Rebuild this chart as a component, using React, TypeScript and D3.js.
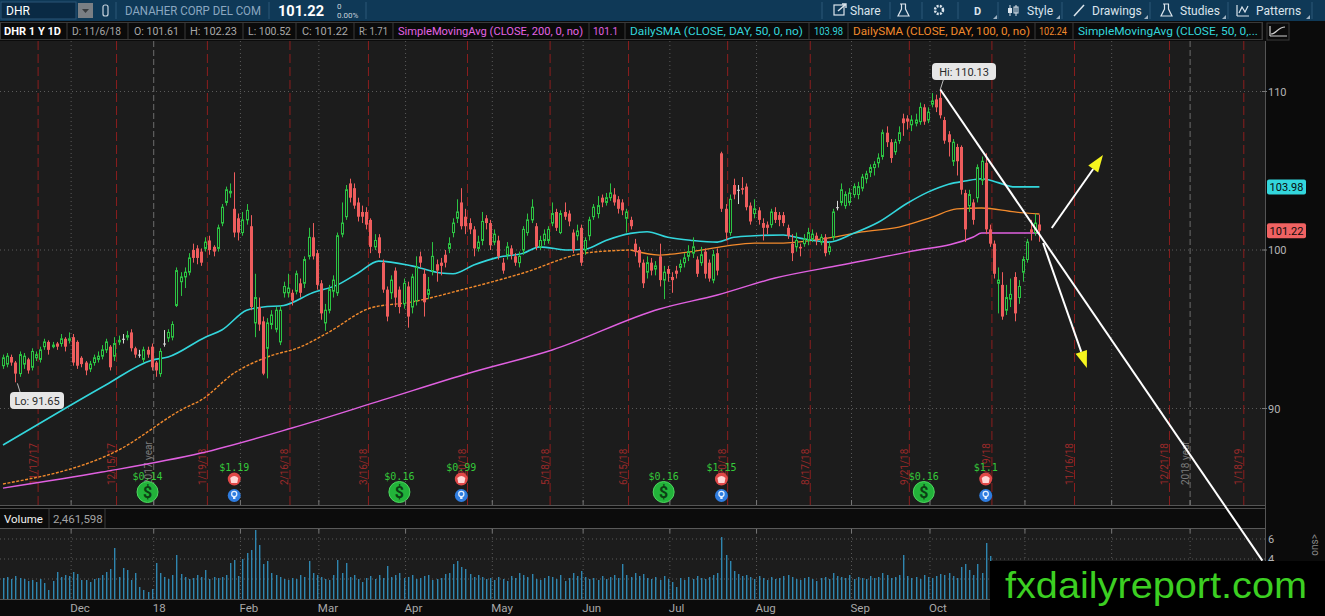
import React from "react";
import * as d3 from "d3";

// daily bars, [open, high, low, close]
const ohlc: [number, number, number, number][] = [
  [92.7, 93.4, 92.5, 93.2], [92.8, 93.5, 92.6, 93.3], [93.25, 93.4, 92.7, 92.9], [92.9, 93.0, 91.65, 92.2],
  [92.2, 93.6, 92.0, 93.4], [92.8, 93.5, 92.5, 93.3], [93.1, 93.2, 92.2, 92.4], [92.6, 93.8, 92.4, 93.6],
  [93.2, 93.6, 93.0, 93.4], [93.1, 93.9, 92.9, 93.7], [93.9, 94.4, 93.7, 94.2], [94.2, 94.3, 93.4, 93.7],
  [93.9, 94.2, 93.8, 94.0], [94.1, 94.2, 93.7, 93.9], [94.1, 94.7, 93.9, 94.4], [94.4, 94.5, 93.6, 93.9],
  [94.3, 94.8, 94.1, 94.4], [94.5, 94.7, 92.7, 92.9], [94.2, 94.3, 92.5, 92.7], [93.2, 93.3, 92.6, 92.8],
  [92.9, 93.0, 92.1, 92.4], [92.5, 93.0, 92.3, 92.8], [92.9, 93.4, 92.7, 93.2], [93.1, 93.6, 92.9, 93.3],
  [93.3, 94.0, 93.1, 93.7], [93.7, 94.4, 93.5, 94.2], [93.9, 94.0, 92.4, 92.6], [93.3, 94.5, 93.0, 94.1],
  [94.2, 94.6, 94.0, 94.3], [94.4, 94.7, 94.1, 94.4], [94.5, 94.9, 94.3, 94.6], [94.8, 95.0, 93.6, 93.8],
  [93.8, 93.9, 93.2, 93.4], [93.4, 93.7, 93.2, 93.4], [93.1, 93.9, 92.9, 93.7], [93.7, 93.9, 93.2, 93.4],
  [93.9, 94.1, 92.4, 92.6], [92.9, 93.0, 92.0, 92.4], [92.2, 93.8, 92.0, 93.6], [94.1, 94.95, 93.9, 94.1],
  [94.45, 95.0, 94.2, 94.8], [94.5, 95.5, 94.3, 95.3], [96.5, 98.9, 96.4, 98.7], [98.0, 98.6, 97.1, 98.3],
  [98.3, 98.9, 97.6, 98.6], [98.6, 99.8, 98.4, 99.5], [100.0, 100.4, 99.2, 99.5], [100.1, 100.3, 99.1, 99.5],
  [99.9, 100.1, 99.0, 99.2], [100.1, 100.8, 99.9, 100.5], [100.6, 100.9, 99.7, 100.0], [100.2, 100.3, 99.6, 99.9],
  [100.1, 101.6, 99.9, 101.4], [101.7, 102.9, 101.5, 102.7], [103.0, 104.0, 102.8, 103.8], [103.6, 104.2, 103.3, 103.7],
  [102.6, 104.9, 100.8, 101.1], [102.0, 102.3, 100.6, 101.1], [101.1, 102.4, 100.9, 101.9], [101.9, 102.9, 101.6, 102.5],
  [101.5, 102.2, 96.2, 96.4], [95.4, 98.5, 94.5, 97.0], [96.4, 97.0, 94.9, 95.3], [95.5, 95.8, 92.1, 92.2],
  [93.8, 95.7, 91.9, 95.4], [95.3, 96.2, 95.0, 95.9], [95.0, 96.4, 94.8, 96.2], [94.2, 96.5, 94.0, 96.2],
  [97.3, 98.0, 97.0, 97.7], [97.3, 98.5, 97.0, 97.6], [97.3, 97.5, 96.5, 96.8], [97.4, 98.7, 97.2, 98.5],
  [97.9, 98.2, 97.0, 97.3], [97.9, 99.6, 97.6, 99.4], [99.6, 101.4, 99.4, 100.8], [100.8, 101.7, 99.4, 99.6],
  [99.8, 100.0, 97.5, 97.8], [97.9, 98.1, 95.6, 96.0], [95.4, 96.6, 94.9, 96.2], [96.2, 97.8, 96.0, 97.5],
  [97.4, 98.4, 97.0, 98.1], [97.3, 101.1, 97.1, 100.9], [101.0, 103.0, 100.8, 101.7], [102.1, 104.1, 101.9, 103.8],
  [104.2, 104.5, 103.0, 103.3], [103.9, 104.2, 102.6, 102.8], [103.0, 103.3, 101.8, 102.1], [102.4, 102.8, 101.7, 102.1],
  [102.4, 102.7, 101.3, 101.6], [101.9, 102.0, 99.8, 100.2], [100.2, 101.0, 100.0, 100.6], [100.8, 101.0, 99.5, 99.8],
  [99.2, 99.4, 97.3, 97.5], [97.5, 97.7, 95.5, 95.8], [97.3, 98.4, 96.9, 98.1], [98.7, 98.9, 96.4, 97.0],
  [97.5, 97.7, 96.0, 96.4], [96.6, 98.2, 96.3, 97.9], [97.7, 98.0, 95.1, 95.8], [96.4, 98.5, 96.0, 98.3],
  [96.8, 99.6, 96.5, 98.9], [99.6, 99.9, 98.9, 99.2], [98.5, 98.8, 95.8, 96.7], [97.2, 98.3, 96.9, 97.5],
  [98.7, 100.5, 98.4, 99.6], [99.1, 99.4, 98.0, 98.7], [99.2, 99.5, 98.4, 99.0], [99.7, 100.0, 98.9, 99.2],
  [100.1, 100.8, 99.8, 100.4], [101.1, 102.0, 100.8, 101.7], [102.0, 103.2, 101.7, 102.4], [103.0, 103.9, 101.3, 101.5],
  [102.1, 102.6, 101.0, 101.5], [101.7, 102.0, 101.0, 101.3], [101.3, 101.5, 99.6, 100.1], [100.1, 100.9, 99.9, 100.5],
  [100.6, 102.4, 100.3, 101.8], [102.0, 102.2, 101.3, 101.7], [101.7, 101.9, 100.0, 100.3], [100.5, 101.3, 100.3, 101.0],
  [100.6, 100.9, 99.4, 99.6], [99.2, 99.5, 98.5, 98.7], [99.7, 100.5, 99.4, 100.2], [100.1, 100.3, 99.4, 99.7],
  [99.6, 99.8, 99.0, 99.2], [99.2, 99.9, 98.9, 99.6], [100.0, 101.5, 99.7, 101.3], [101.1, 102.3, 100.9, 101.9],
  [101.9, 103.2, 101.7, 102.7], [101.5, 101.7, 100.0, 100.2], [100.2, 100.9, 100.0, 100.6], [100.6, 101.3, 100.3, 101.0],
  [100.6, 101.5, 100.4, 101.3], [101.7, 103.0, 101.5, 102.3], [102.4, 102.6, 101.2, 101.4], [101.1, 102.5, 101.0, 102.3],
  [102.4, 103.0, 101.9, 102.1], [102.3, 102.5, 101.5, 101.8], [101.1, 101.3, 99.8, 100.0], [100.9, 101.6, 100.6, 101.2],
  [101.4, 101.6, 99.0, 99.2], [100.0, 100.8, 99.7, 100.6], [100.9, 102.1, 100.6, 101.9], [102.1, 102.9, 101.9, 102.7],
  [102.3, 103.4, 102.0, 102.8], [103.3, 103.5, 102.7, 103.0], [103.0, 103.6, 102.8, 103.3], [103.3, 104.2, 103.1, 103.6],
  [103.5, 103.9, 102.8, 103.0], [103.2, 103.4, 102.3, 102.6], [103.0, 103.2, 102.2, 102.5], [102.0, 102.6, 101.1, 102.4],
  [101.9, 102.1, 101.3, 101.5], [100.4, 100.7, 99.6, 99.9], [100.0, 100.2, 98.9, 99.2], [99.2, 99.4, 97.6, 97.9],
  [98.6, 99.6, 98.2, 99.2], [99.2, 99.5, 98.4, 98.7], [98.8, 99.3, 98.4, 99.0], [99.6, 100.4, 97.7, 98.1],
  [98.1, 99.0, 96.9, 98.6], [98.8, 99.0, 98.0, 98.5], [98.3, 98.6, 97.3, 98.1], [98.7, 99.0, 98.2, 98.5],
  [98.9, 99.4, 98.6, 99.1], [99.2, 99.8, 98.9, 99.5], [99.6, 100.3, 99.3, 99.9], [99.8, 100.8, 99.5, 100.2],
  [99.4, 99.6, 98.3, 98.5], [99.2, 100.2, 99.0, 99.7], [99.9, 100.1, 98.2, 98.5], [99.2, 99.4, 98.0, 98.2],
  [98.1, 100.0, 97.9, 99.7], [99.8, 100.1, 98.4, 98.7], [106.1, 106.2, 102.4, 102.6], [102.6, 102.9, 100.6, 101.1],
  [101.1, 103.5, 100.9, 103.2], [104.1, 104.5, 103.2, 103.5], [103.8, 104.1, 102.9, 103.8], [103.9, 104.6, 103.5, 103.8],
  [104.0, 104.2, 102.5, 102.7], [102.8, 103.0, 101.6, 101.8], [102.3, 103.2, 102.0, 102.6], [102.5, 102.7, 101.6, 101.9],
  [101.7, 102.0, 100.6, 101.4], [101.6, 101.8, 101.0, 101.4], [101.6, 102.6, 101.4, 102.4], [102.4, 102.7, 101.7, 101.9],
  [102.2, 102.4, 101.5, 101.9], [102.2, 102.4, 101.5, 101.7], [101.4, 101.6, 100.7, 100.9], [100.4, 101.0, 99.3, 99.8],
  [100.2, 101.1, 99.9, 100.6], [100.2, 100.4, 99.6, 100.1], [100.4, 101.0, 100.2, 100.7], [100.6, 101.4, 100.3, 101.1],
  [100.7, 101.3, 100.5, 101.0], [100.9, 101.1, 100.3, 100.6], [100.5, 101.0, 100.3, 100.8], [100.8, 101.0, 99.6, 99.8],
  [99.9, 100.5, 99.7, 100.2], [100.8, 102.6, 100.6, 102.4], [102.7, 103.1, 102.5, 102.7], [103.0, 104.2, 102.8, 103.8],
  [102.8, 103.7, 102.6, 103.5], [103.0, 103.9, 102.8, 103.6], [103.5, 104.2, 103.3, 104.0], [103.5, 104.3, 103.2, 104.0],
  [103.9, 104.8, 103.7, 104.6], [104.5, 105.0, 104.2, 104.8], [104.9, 105.4, 104.6, 105.2], [105.2, 105.6, 104.7, 105.4],
  [105.5, 106.1, 105.2, 105.8], [105.9, 107.6, 105.7, 107.4], [107.4, 107.8, 106.5, 106.8], [106.8, 107.0, 105.5, 105.8],
  [106.2, 107.0, 106.0, 106.8], [106.9, 107.8, 106.7, 107.4], [108.3, 108.6, 107.2, 108.0], [108.3, 108.5, 107.6, 108.1],
  [107.9, 108.5, 107.5, 108.2], [108.0, 108.6, 107.8, 108.2], [108.1, 109.3, 107.9, 109.0], [109.0, 109.2, 107.9, 108.1],
  [108.2, 109.0, 108.0, 108.7], [109.2, 109.9, 109.0, 109.4], [109.5, 109.8, 108.7, 109.0], [109.6, 110.13, 108.3, 108.5],
  [108.2, 108.4, 106.7, 106.9], [107.3, 107.5, 105.9, 106.8], [105.6, 107.0, 105.3, 106.8], [106.5, 106.7, 104.7, 105.6],
  [106.5, 106.6, 103.5, 103.8], [103.6, 103.8, 100.5, 101.3], [102.8, 103.8, 102.4, 103.5], [103.0, 103.2, 101.6, 101.9],
  [103.3, 105.4, 103.0, 105.2], [104.4, 105.9, 104.1, 105.6], [105.5, 106.1, 101.0, 101.3], [101.3, 101.6, 100.2, 100.4],
  [100.4, 100.6, 98.2, 98.5], [97.9, 98.9, 96.0, 98.1], [97.8, 98.6, 95.6, 95.8], [96.2, 97.8, 95.9, 97.0],
  [96.9, 98.2, 96.4, 97.2], [98.3, 98.6, 95.5, 96.0], [97.0, 98.1, 96.6, 97.7], [98.6, 99.6, 98.0, 99.4],
  [99.4, 100.7, 99.2, 100.5], [101.3, 101.9, 100.6, 101.1], [101.1, 102.3, 100.9, 101.7], [101.61, 102.23, 100.52, 101.22],
];

// daily volume, millions of shares
const volumes = [
  2.1, 2.2, 2.0, 2.3, 2.1, 2.0, 1.8, 1.9, 1.7, 2.0,
  1.6, 0.9, 1.8, 2.7, 2.2, 2.4, 2.3, 2.7, 2.5, 1.9,
  1.9, 1.7, 2.0, 2.1, 2.4, 2.7, 3.0, 5.1, 2.2, 3.1,
  2.9, 1.9, 2.6, 1.2, 0.9, 0.7, 1.0, 3.6, 2.6, 2.2,
  2.0, 2.4, 4.4, 2.5, 2.2, 2.0, 2.1, 2.4, 2.2, 2.9,
  2.0, 2.2, 2.1, 2.2, 2.4, 3.6, 3.9, 2.3, 4.0, 4.6,
  4.9, 6.9, 5.4, 3.5, 3.8, 2.6, 2.4, 2.2, 2.0, 1.9,
  2.1, 2.0, 2.4, 2.2, 3.8, 2.6, 2.4, 2.2, 2.0, 1.9,
  2.4, 3.9, 2.6, 3.6, 2.2, 2.4, 2.0, 1.7, 2.1, 2.3,
  2.0, 2.4, 2.1, 3.3, 2.2, 2.4, 2.6, 2.1, 2.2, 2.4,
  2.0, 2.1, 2.3, 2.4, 1.9, 2.0, 2.1, 2.5, 2.6, 3.5,
  3.8, 3.2, 3.0, 2.5, 2.2, 2.4, 2.2, 2.0, 2.1, 1.9,
  2.2, 2.0, 1.8, 2.3, 2.1, 2.6, 2.4, 2.2, 2.5, 2.0,
  1.9, 2.1, 2.3, 2.2, 2.0, 2.4, 1.8, 2.1, 2.6, 2.3,
  2.8, 2.2, 2.0, 2.1, 1.9, 2.3, 2.0, 2.2, 2.4, 2.1,
  3.5, 2.4, 2.2, 2.6, 2.3, 2.5, 2.1, 2.0, 2.2, 1.9,
  2.3, 2.0, 1.7, 1.2, 2.1, 1.9, 2.2, 2.0, 2.3, 2.1,
  2.0, 2.2, 2.4, 2.6, 6.2, 4.4, 3.8, 2.8, 2.5, 2.3,
  2.4, 2.2, 2.0, 2.3, 2.1, 1.9, 2.2, 2.0, 2.1, 2.3,
  2.4, 2.2, 2.0, 1.9, 2.1, 2.2, 2.0, 1.8, 2.1, 2.2,
  2.0, 2.6, 2.3, 2.2, 2.1, 2.4, 2.0, 2.2, 2.1, 2.0,
  2.3, 2.1, 2.2, 2.6, 2.4, 2.1, 2.2, 2.4, 4.4, 2.3,
  2.1, 2.2, 2.0, 2.4, 2.2, 2.1, 2.3, 2.5, 2.4, 2.6,
  2.3, 2.1, 3.2, 3.5, 2.9, 2.4, 3.5, 2.6, 5.6, 4.3,
  3.4, 3.0, 3.2, 2.8, 2.6, 2.9, 2.5, 2.4, 2.7, 2.3,
  2.2, 2.46,
];

// moving averages, [bar index, value]
const sma50Pts: [number, number][] = [
  [0, 87.7], [15, 90.0], [25, 91.5], [36, 93.05], [40, 93.25], [49, 94.5], [53, 94.95], [59, 96.2],
  [63, 96.4], [68, 96.5], [75, 97.3], [81, 97.8], [86, 98.55], [91, 99.3], [99, 99.0], [106, 98.55],
  [109, 98.5], [114, 99.05], [120, 99.55], [126, 99.8], [130, 100.2], [137, 100.0], [141, 100.05],
  [146, 100.6], [152, 101.05], [156, 101.15], [161, 100.8], [167, 100.6], [173, 100.5], [177, 100.8],
  [182, 100.9], [189, 100.95], [193, 100.75], [200, 100.5], [206, 101.05], [212, 101.75], [219, 102.95],
  [224, 103.65], [229, 104.15], [233, 104.35], [237, 104.5], [241, 104.25], [245, 103.98], [251, 103.98],
];
const sma100Pts: [number, number][] = [
  [0, 85.24], [28, 87.38], [44, 90.03], [48, 90.54], [56, 92.24], [64, 93.25], [72, 93.88], [79, 94.83],
  [89, 96.34], [99, 96.72], [111, 97.48], [126, 98.55], [141, 99.81], [152, 100.0], [159, 99.68],
  [166, 99.87], [175, 100.25], [182, 100.44], [189, 100.44], [200, 100.76], [208, 101.14], [217, 101.45],
  [225, 102.08], [231, 102.59], [237, 102.65], [245, 102.4], [251, 102.27],
];
const sma200Pts: [number, number][] = [
  [0, 84.98], [24, 85.99], [48, 87.19], [70, 88.77], [92, 90.54], [113, 92.24], [133, 93.69],
  [159, 96.28], [173, 97.16], [187, 98.23], [203, 99.05], [219, 99.87], [235, 100.82], [237, 101.07], [251, 101.07],
];

const holidays = [
  "2017-11-23", "2017-12-25", "2018-01-01", "2018-01-15", "2018-02-19", "2018-03-30", "2018-05-28",
  "2018-07-04", "2018-09-03", "2018-11-22", "2018-12-05", "2018-12-25", "2019-01-01", "2019-01-21",
];
const opexDates = [
  "2017-11-17", "2017-12-15", "2018-01-19", "2018-02-16", "2018-03-16", "2018-04-20", "2018-05-18",
  "2018-06-15", "2018-07-20", "2018-08-17", "2018-09-21", "2018-10-19", "2018-11-16", "2018-12-21", "2019-01-18",
];
const dividends = [
  { date: "2017-12-28", label: "$0.14" }, { date: "2018-03-28", label: "$0.16" },
  { date: "2018-06-28", label: "$0.16" }, { date: "2018-09-27", label: "$0.16" },
];
const earnings = [
  { date: "2018-01-30", label: "$1.19" }, { date: "2018-04-19", label: "$0.99" },
  { date: "2018-07-19", label: "$1.15" }, { date: "2018-10-18", label: "$1.1" },
];
const priceTicks = [90, 100, 110];
const volTicks = [2, 4, 6];
const sma50Last = 103.98;

const infoItems = [
  { t: "DHR 1 Y 1D", x: 4, w: 57, c: "#ffffff", b: true },
  { t: "D: 11/6/18", x: 72, w: 49, c: "#a9a9a9" },
  { t: "O: 101.61", x: 134, w: 45, c: "#a9a9a9" },
  { t: "H: 102.23", x: 190, w: 47, c: "#a9a9a9" },
  { t: "L: 100.52", x: 248, w: 43, c: "#a9a9a9" },
  { t: "C: 101.22", x: 302, w: 46, c: "#a9a9a9" },
  { t: "R: 1.71", x: 359, w: 29, c: "#a9a9a9" },
  { t: "SimpleMovingAvg (CLOSE, 200, 0, no)", x: 398, w: 185, c: "#e463e4" },
  { t: "101.1", x: 593, w: 25, c: "#e463e4" },
  { t: "DailySMA (CLOSE, DAY, 50, 0, no)", x: 630, w: 173, c: "#33d6dc" },
  { t: "103.98", x: 814, w: 29, c: "#33d6dc" },
  { t: "DailySMA (CLOSE, DAY, 100, 0, no)", x: 853, w: 177, c: "#f28a2c" },
  { t: "102.24", x: 1039, w: 28, c: "#f28a2c" },
  { t: "SimpleMovingAvg (CLOSE, 50, 0,...", x: 1078, w: 180, c: "#33d6dc" },
];
const infoSeps = [67, 128, 185, 243, 296, 354, 393, 589, 625, 809, 848, 1035, 1073, 1262];

const FONT = "Roboto, 'Liberation Sans', sans-serif";
const PLOT_R = 1265, PLOT_T = 41, PLOT_B = 505;
const VOL_T = 529, VOL_B = 599;
const WM_X = 990, WM_Y = 561;
const GREEN = "#2cc443", RED = "#ee5d5d", CYAN = "#33d6dc", ORANGE = "#f28a2c", MAGENTA = "#e060e0";

const App: React.FC = () => {
  const fmt = d3.timeFormat("%Y-%m-%d");
  const hol = new Set(holidays);
  const days = d3.timeDay
    .range(new Date(2017, 10, 7), new Date(2019, 1, 1))
    .filter((d) => d.getDay() % 6 !== 0 && !hol.has(fmt(d)));
  const idx = (s: string) => days.findIndex((d) => fmt(d) === s);

  const x = d3.scaleLinear().domain([0, ohlc.length - 1]).range([3, 1039.4]);
  const step = x(1) - x(0);
  const y = d3.scaleLinear().domain([90, 110]).range([408.5, 91.5]);
  const yv = d3.scaleLinear().domain([0, 7]).range([VOL_B, VOL_T]);

  const monthStarts = days
    .map((d, i) => ({ d, i }))
    .filter(({ d, i }) => i > 0 && d.getMonth() !== days[i - 1].getMonth())
    .map(({ d, i }) => ({ d, i, px: x(i) - step / 2 }))
    .filter((m) => m.px < PLOT_R);
  const yearStarts = monthStarts.filter((m) => m.d.getMonth() === 0);
  const monthLabel = (d: Date) => (d.getMonth() === 0 ? d3.timeFormat("%y")(d) : d3.timeFormat("%b")(d));

  const line = d3
    .line<[number, number]>()
    .x((p) => x(p[0]))
    .y((p) => y(p[1]))
    .curve(d3.curveMonotoneX);
  const sma100Dashed = sma100Pts.filter((p) => p[0] <= 152);
  const sma100Solid = sma100Pts.filter((p) => p[0] >= 152);

  const lowIdx = d3.minIndex(ohlc, (d) => d[2]);
  const highIdx = d3.maxIndex(ohlc, (d) => d[1]);
  const last = ohlc[ohlc.length - 1];

  // hand-drawn annotations in chart space
  const trend: [number, number][] = [[highIdx, ohlc[highIdx][1]], [305, 80.4]];
  const arrows: [number, number, number, number][] = [
    [254, 101.39, 266.4, 105.99],
    [251.9, 100.44, 262.5, 92.56],
  ];

  const arrowHead = (a: [number, number, number, number]) => {
    const x1 = x(a[0]), y1 = y(a[1]), x2 = x(a[2]), y2 = y(a[3]);
    const ang = Math.atan2(y2 - y1, x2 - x1);
    const len = 17, hw = 6;
    const bx = x2 - len * Math.cos(ang), by = y2 - len * Math.sin(ang);
    const nx = -Math.sin(ang) * hw, ny = Math.cos(ang) * hw;
    return {
      shaft: [x1, y1, bx, by],
      head: `M${x2},${y2}L${bx + nx},${by + ny}L${bx - nx},${by - ny}Z`,
    };
  };

  return (
    <svg
      width={1325}
      height={616}
      style={{ position: "absolute", left: 0, top: 0, display: "block", background: "#0b0b0b" }}
      fontFamily={FONT}
    >
      <defs>
        <clipPath id="plotClip">
          <rect x={0} y={PLOT_T} width={PLOT_R} height={PLOT_B - PLOT_T} />
        </clipPath>
        <clipPath id="volClip">
          <rect x={0} y={VOL_T} width={PLOT_R} height={VOL_B - VOL_T} />
        </clipPath>
      </defs>

      {/* top toolbar */}
      <rect x={0} y={0} width={1325} height={21} fill="#0f3957" />
      <rect x={1} y={2} width={75} height={17} fill="#0a2a44" stroke="#2a5576" />
      <text x={6} y={15} fill="#ffffff" fontSize={12}>DHR</text>
      <rect x={78} y={3} width={15} height={15} fill="#7b7f84" />
      <path d="M82,9L89,9L85.5,13Z" fill="#3a3d40" />
      <rect x={103} y={5} width={5} height={11} rx={2} fill="none" stroke="#c9d4de" strokeWidth={1.2} />
      <line x1={116} y1={2} x2={116} y2={19} stroke="#2c5878" />
      <text x={125} y={15} fill="#8ba7c0" fontSize={12} textLength={136} lengthAdjust="spacingAndGlyphs">DANAHER CORP DEL COM</text>
      <line x1={269} y1={2} x2={269} y2={19} stroke="#2c5878" />
      <text x={278} y={16} fill="#ffffff" fontSize={14} fontWeight="bold" textLength={46} lengthAdjust="spacingAndGlyphs">101.22</text>
      <text x={337} y={9} fill="#c8d2dc" fontSize={8}>0</text>
      <text x={337} y={18} fill="#c8d2dc" fontSize={8}>0.00%</text>
      <line x1={366} y1={2} x2={366} y2={19} stroke="#2c5878" />

      {/* toolbar right side */}
      <g stroke="#2c5878">
        {[822, 890, 922, 958, 998, 1062, 1150, 1228, 1312].map((sx) => (
          <line key={sx} x1={sx} y1={2} x2={sx} y2={19} />
        ))}
      </g>
      <g fill="#dbe4ec" fontSize={12}>
        <rect x={834} y={5} width={10} height={10} fill="none" stroke="#dbe4ec" strokeWidth={1.2} />
        <path d="M838,11L846,4M842,4L846,4L846,8" stroke="#dbe4ec" strokeWidth={1.4} fill="none" />
        <text x={850} y={15}>Share</text>
        <path d="M900,4L906,4M901.5,4L901.5,9L898,16L909,16L905.5,9L905.5,4" stroke="#dbe4ec" strokeWidth={1.2} fill="none" />
        <circle cx={939} cy={10} r={4} fill="none" stroke="#dbe4ec" strokeWidth={2.5} strokeDasharray="2 1.2" />
        <circle cx={939} cy={10} r={1.5} fill="#0f3957" />
        <text x={974} y={15} fontWeight="bold" fontSize={11}>D</text>
        <path d="M1010,5L1010,16M1016,5L1016,16" stroke="#dbe4ec" strokeWidth={1} />
        <rect x={1008} y={8} width={4} height={5} />
        <rect x={1014} y={7} width={4} height={6} fill="none" stroke="#dbe4ec" />
        <text x={1027} y={15}>Style</text>
        <line x1={1074} y1={16} x2={1084} y2={5} stroke="#dbe4ec" strokeWidth={1.5} />
        <text x={1092} y={15}>Drawings</text>
        <path d="M1163,4L1169,4M1164.5,4L1164.5,9L1161,16L1172,16L1168.5,9L1168.5,4" stroke="#dbe4ec" strokeWidth={1.2} fill="none" />
        <text x={1180} y={15}>Studies</text>
        <path d="M1237,16L1249,16M1237,5L1237,16M1239,13L1242,7L1245,12L1248,6" stroke="#dbe4ec" strokeWidth={1.2} fill="none" />
        <text x={1256} y={15}>Patterns</text>
        {[997, 1060, 1148, 1226, 1310].map((tx) => (
          <path key={tx} d={`M${tx - 4},${19}L${tx},${19}L${tx},${15}Z`} fill="#9fb2c2" />
        ))}
      </g>

      {/* info line */}
      <rect x={0} y={21} width={1325} height={20} fill="#0b0b0b" />
      <rect x={0.5} y={22.5} width={1262} height={17} fill="none" stroke="#3a3a3a" />
      {infoSeps.map((sx) => (
        <line key={sx} x1={sx} y1={22} x2={sx} y2={40} stroke="#3a3a3a" />
      ))}
      {infoItems.map((it) => (
        <text
          key={it.t}
          x={it.x}
          y={35}
          fill={it.c}
          fontSize={11.5}
          fontWeight={it.b ? "bold" : "normal"}
          textLength={it.w}
          lengthAdjust="spacingAndGlyphs"
        >
          {it.t}
        </text>
      ))}
      <rect x={1267} y={23} width={22} height={17} fill="none" stroke="#3a3a3a" />
      <path d="M1270,36L1287,36M1270,26L1270,36M1271,34C1276,34 1278,27 1285,27" stroke="#cfcfcf" fill="none" strokeWidth={1.2} />

      {/* main plot */}
      <rect x={0} y={PLOT_T} width={PLOT_R} height={PLOT_B - PLOT_T} fill="#1c1c1c" />
      <g stroke="#5a5a5a" strokeDasharray="1 3">
        {priceTicks.map((t) => (
          <line key={t} x1={0} x2={PLOT_R} y1={y(t)} y2={y(t)} />
        ))}
        {monthStarts
          .filter((m) => m.d.getMonth() !== 0)
          .map((m) => (
            <line key={m.i} x1={m.px} x2={m.px} y1={PLOT_T} y2={PLOT_B} />
          ))}
      </g>
      <g stroke="#6c6c6c" strokeDasharray="6 3">
        {yearStarts.map((m) => (
          <line key={m.i} x1={m.px} x2={m.px} y1={PLOT_T} y2={PLOT_B} />
        ))}
      </g>
      <g fill="#7c7c7c" fontSize={10}>
        {yearStarts.map((m) => (
          <text key={m.i} transform={`translate(${m.px - 1.5},485) rotate(-90)`}>
            {`${m.d.getFullYear() - 1} year`}
          </text>
        ))}
      </g>
      <g stroke="#8c1e1e" strokeDasharray="9 4">
        {opexDates.map((s) => {
          const px = x(idx(s)) + step / 2;
          return <line key={s} x1={px} x2={px} y1={PLOT_T} y2={PLOT_B} />;
        })}
      </g>
      <g fill="#9c2a2a" fontSize={10}>
        {opexDates.map((s) => {
          const px = x(idx(s)) + step / 2;
          return (
            <text key={s} transform={`translate(${px - 1.5},485) rotate(-90)`}>
              {d3.timeFormat("%-m/%-d/%y")(days[idx(s)])}
            </text>
          );
        })}
      </g>

      <g clipPath="url(#plotClip)">
        <path d={line(sma200Pts) ?? ""} fill="none" stroke={MAGENTA} strokeWidth={1.4} />
        <path d={line(sma100Dashed) ?? ""} fill="none" stroke={ORANGE} strokeWidth={1.4} strokeDasharray="3 1.5" />
        <path d={line(sma100Solid) ?? ""} fill="none" stroke={ORANGE} strokeWidth={1.3} />
        <path d={line(sma50Pts) ?? ""} fill="none" stroke={CYAN} strokeWidth={1.6} />
        {ohlc.map(([o, h, l, c], i) => {
          const cx = Math.round(x(i)) + 0.5;
          const top = y(Math.max(o, c));
          const bot = y(Math.min(o, c));
          if (c > o) {
            return (
              <g key={i} stroke={GREEN}>
                <line x1={cx} x2={cx} y1={y(h)} y2={top} />
                <line x1={cx} x2={cx} y1={bot} y2={y(l)} />
                <rect x={cx - 1} y={top} width={2} height={Math.max(bot - top, 1)} fill="#1c1c1c" />
              </g>
            );
          }
          const col = c < o ? RED : "#d8d8d8";
          return (
            <g key={i} fill={col} stroke={col}>
              <line x1={cx} x2={cx} y1={y(h)} y2={y(l)} />
              <rect x={cx - 1.5} y={top} width={3} height={Math.max(bot - top, 1)} stroke="none" />
            </g>
          );
        })}
      </g>

      {/* event markers */}
      {dividends.map((dv) => {
        const px = x(idx(dv.date));
        return (
          <g key={dv.date}>
            <text x={px} y={480} textAnchor="middle" fill="#35c93a" fontSize={10} fontFamily="'DejaVu Sans Mono', monospace">
              {dv.label}
            </text>
            <circle cx={px} cy={492} r={10.5} fill="#22b33a" stroke="#4fd860" />
            <text x={px} y={497.5} textAnchor="middle" fill="#0c3f14" fontSize={16} fontWeight="bold">$</text>
          </g>
        );
      })}
      {earnings.map((ev) => {
        const px = x(idx(ev.date));
        return (
          <g key={ev.date}>
            <text x={px} y={471} textAnchor="middle" fill="#35c93a" fontSize={10} fontFamily="'DejaVu Sans Mono', monospace">
              {ev.label}
            </text>
            <circle cx={px} cy={479} r={6.5} fill="#e04848" />
            <path d={`M${px - 4},${478}Q${px},${474} ${px + 4},${478}L${px + 3},${483}L${px - 3},${483}Z`} fill="#ffd6d6" />
            <circle cx={px} cy={495.5} r={6.5} fill="#2f7de0" />
            <circle cx={px} cy={494} r={2.6} fill="none" stroke="#e6f0ff" strokeWidth={1.2} />
            <rect x={px - 1.2} y={496.5} width={2.4} height={2.5} fill="#e6f0ff" />
          </g>
        );
      })}

      {/* Hi / Lo bubbles */}
      <line x1={x(lowIdx) + 2} y1={y(ohlc[lowIdx][2]) + 1} x2={x(lowIdx) + 5} y2={393} stroke="#bdbdbd" />
      <rect x={10} y={392} width={54} height={17} rx={4} fill="#e6e6e6" />
      <text x={37} y={405} textAnchor="middle" fill="#2a2a2a" fontSize={11}>
        {`Lo: ${ohlc[lowIdx][2].toFixed(2)}`}
      </text>
      <line x1={x(highIdx) + 3} y1={80} x2={x(highIdx)} y2={y(ohlc[highIdx][1])} stroke="#bdbdbd" />
      <rect x={932} y={63} width={64} height={17} rx={4} fill="#e6e6e6" />
      <text x={964} y={76} textAnchor="middle" fill="#2a2a2a" fontSize={11}>
        {`Hi: ${ohlc[highIdx][1].toFixed(2)}`}
      </text>

      {/* panel borders and ticks */}
      <line x1={PLOT_R + 0.5} x2={PLOT_R + 0.5} y1={PLOT_T} y2={VOL_B} stroke="#555" />
      <line x1={0} x2={PLOT_R} y1={PLOT_B + 0.5} y2={PLOT_B + 0.5} stroke="#555" />
      <g stroke="#777">
        {monthStarts.map((m) => (
          <line key={m.i} x1={m.px} x2={m.px} y1={PLOT_B - 5} y2={PLOT_B} />
        ))}
        {priceTicks.map((t) => (
          <line key={t} x1={PLOT_R - 3} x2={PLOT_R + 2} y1={y(t)} y2={y(t)} />
        ))}
      </g>
      <g fill="#b4b4b4" fontSize={11}>
        {priceTicks.map((t) => (
          <text key={t} x={1268} y={y(t) + 4}>{t}</text>
        ))}
      </g>
      <rect x={1267} y={y(sma50Last) - 7.5} width={39} height={15} rx={2} fill={CYAN} />
      <text x={1286.5} y={y(sma50Last) + 4} textAnchor="middle" fill="#0a0a0a" fontSize={11}>
        {sma50Last.toFixed(2)}
      </text>
      <rect x={1267} y={y(last[3]) - 7.5} width={39} height={15} rx={2} fill="#f06262" />
      <text x={1286.5} y={y(last[3]) + 4} textAnchor="middle" fill="#0a0a0a" fontSize={11}>
        {last[3].toFixed(2)}
      </text>

      {/* volume header */}
      <rect x={0} y={507} width={PLOT_R} height={22} fill="#0c0c0c" />
      <line x1={0} x2={PLOT_R} y1={508.5} y2={508.5} stroke="#4a4a4a" />
      <line x1={0} x2={PLOT_R} y1={528.5} y2={528.5} stroke="#5a5a5a" />
      <line x1={49} x2={49} y1={509} y2={528} stroke="#3a3a3a" />
      <line x1={105} x2={105} y1={509} y2={528} stroke="#3a3a3a" />
      <text x={4} y={523} fill="#f0f0f0" fontSize={11.5}>Volume</text>
      <text x={53} y={523} fill="#a4a4a4" fontSize={11.5}>2,461,598</text>

      {/* volume panel */}
      <rect x={0} y={VOL_T} width={PLOT_R} height={VOL_B - VOL_T} fill="#1c1c1c" />
      <g stroke="#5a5a5a" strokeDasharray="1 3">
        {volTicks.map((t) => (
          <line key={t} x1={0} x2={PLOT_R} y1={yv(t)} y2={yv(t)} />
        ))}
        {monthStarts.map((m) => (
          <line key={m.i} x1={m.px} x2={m.px} y1={VOL_T} y2={VOL_B} />
        ))}
      </g>
      <g stroke="#777">
        {monthStarts.map((m) => (
          <line key={m.i} x1={m.px} x2={m.px} y1={VOL_T} y2={VOL_T + 4} />
        ))}
      </g>
      <g clipPath="url(#volClip)" fill="#2f86b0">
        {volumes.map((v, i) => (
          <rect key={i} x={Math.round(x(i))} y={yv(v)} width={1.4} height={VOL_B - yv(v)} />
        ))}
      </g>
      <line x1={0} x2={PLOT_R} y1={VOL_B + 0.5} y2={VOL_B + 0.5} stroke="#555" />
      {/* the watermark box later hides the lower part of these */}
      <g fill="#b4b4b4" fontSize={11}>
        {volTicks
          .filter((t) => yv(t) < WM_Y)
          .map((t) => (
            <text key={t} x={1268} y={yv(t) + 4}>{t}</text>
          ))}
      </g>
      <text transform="translate(1318,534) rotate(-90)" textAnchor="end" fill="#8a8a8a" fontSize={10}>ons&gt;</text>

      {/* time axis */}
      <g fill="#a8a8a8" fontSize={11.5}>
        {monthStarts
          .filter((m) => m.px < WM_X - 10)
          .map((m) => (
            <text key={m.i} x={m.px - 1} y={612}>{monthLabel(m.d)}</text>
          ))}
      </g>

      {/* drawings */}
      <line
        x1={x(trend[0][0])}
        y1={y(trend[0][1])}
        x2={x(trend[1][0])}
        y2={y(trend[1][1])}
        stroke="#ffffff"
        strokeWidth={2}
      />
      {arrows.map((a, k) => {
        const ah = arrowHead(a);
        return (
          <g key={k}>
            <line x1={ah.shaft[0]} y1={ah.shaft[1]} x2={ah.shaft[2]} y2={ah.shaft[3]} stroke="#ffffff" strokeWidth={2} />
            <path d={ah.head} fill="#f5f51e" />
          </g>
        );
      })}

      {/* watermark */}
      <rect x={WM_X} y={WM_Y} width={1325 - WM_X} height={616 - WM_Y} fill="#000000" />
      <text x={1005} y={598} fill="#3ccf22" fontSize={37} fontFamily="'Liberation Sans', Arial, sans-serif" textLength={302} lengthAdjust="spacingAndGlyphs">
        fxdailyreport.com
      </text>
    </svg>
  );
};

export default App;
